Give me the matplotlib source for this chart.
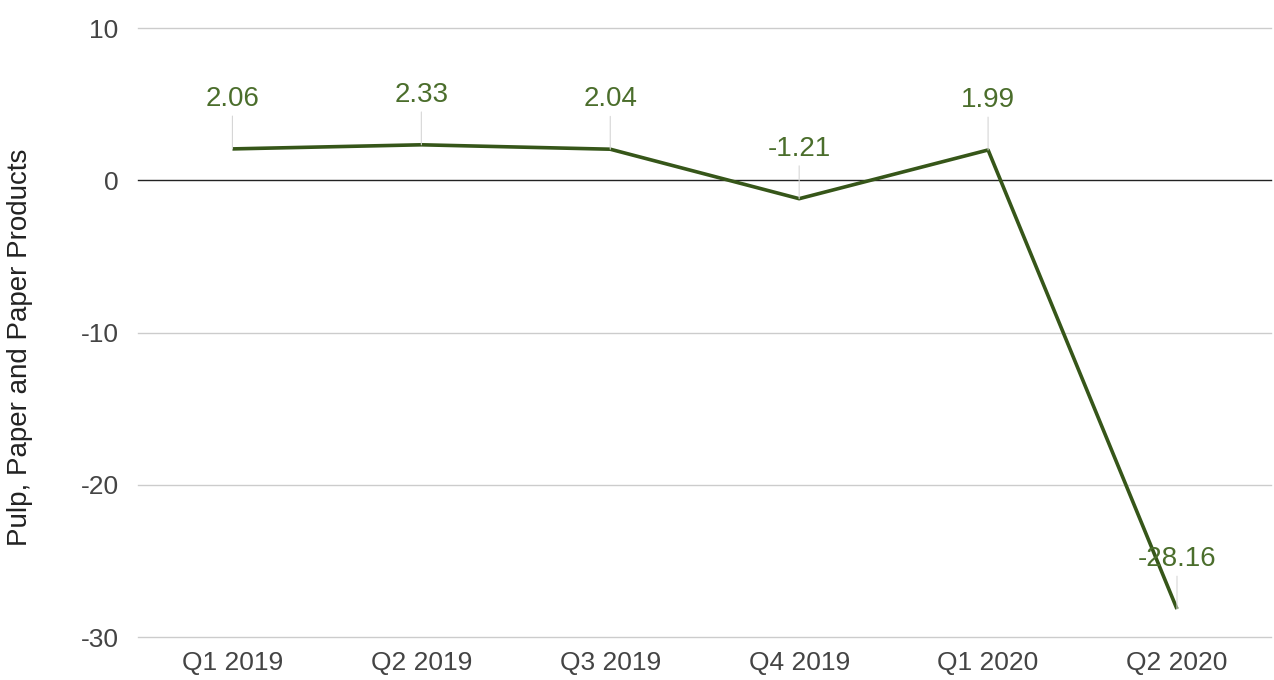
import matplotlib
matplotlib.use("Agg")
import matplotlib.pyplot as plt
import numpy as np

# quarterly values
quarters = ["Q1 2019", "Q2 2019", "Q3 2019", "Q4 2019", "Q1 2020", "Q2 2020"]
values = [2.06, 2.33, 2.04, -1.21, 1.99, -28.16]
yticks = [10, 0, -10, -20, -30]

plt.rcParams['font.family'] = ['Liberation Sans', 'DejaVu Sans']
plt.rcParams['axes.unicode_minus'] = False

fig = plt.figure(figsize=(12.74, 6.8), dpi=100)
ax = fig.add_axes([0.1083, 0.0632, 0.8897, 0.8956])

x = np.arange(len(quarters))
line_color = "#365619"
label_color = "#4b6e2c"

# grid and zero line
for t in yticks:
    if t == 0:
        ax.axhline(t, color="#222222", lw=1.0, zorder=1, clip_on=False)
    else:
        ax.axhline(t, color="#cccccc", lw=1.0, zorder=0, clip_on=False)

ax.plot(x, values, color=line_color, lw=2.6, zorder=3, solid_capstyle="butt")

# data labels with thin leader lines
for xi, v in zip(x, values):
    ax.annotate("{:.2f}".format(v), xy=(xi, v), xytext=(0, 36),
                textcoords="offset points", ha="center", va="center",
                fontsize=20, color=label_color, zorder=4,
                arrowprops=dict(arrowstyle="-", color="#d6d6d6", lw=0.8,
                                shrinkA=1, shrinkB=0))

ax.set_xlim(-0.5, len(quarters) - 0.5)
ax.set_ylim(-30, 10)
ax.set_xticks(x)
ax.set_xticklabels(quarters)
ax.set_yticks(yticks)
ax.tick_params(axis="both", length=0, labelsize=19, colors="#444444")
ax.tick_params(axis="x", pad=10)
ax.tick_params(axis="y", pad=14)
for s in ax.spines.values():
    s.set_visible(False)

ax.set_ylabel("Pulp, Paper and Paper Products", fontsize=20, color="#222222")
ax.yaxis.set_label_coords(-0.093, 0.476)

fig.savefig("out.png", dpi=100)
